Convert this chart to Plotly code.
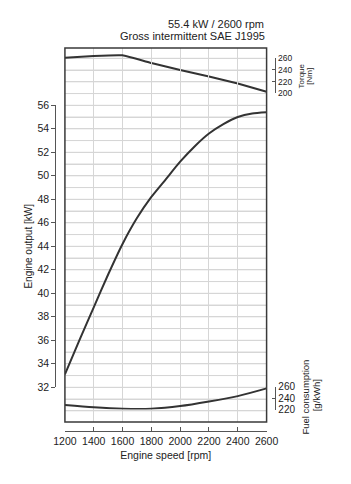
import plotly.graph_objects as go

# ---- data ----
rpm_power = [1200, 1300, 1400, 1500, 1600, 1700, 1800, 1900, 2000, 2100, 2200, 2300, 2400, 2500, 2600]
power_kw = [33.1, 36.0, 38.8, 41.6, 44.2, 46.4, 48.2, 49.7, 51.2, 52.5, 53.6, 54.4, 55.0, 55.3, 55.4]

rpm_torque = [1200, 1400, 1600, 1800, 2000, 2200, 2400, 2600]
torque_nm = [261, 264, 265, 252, 240, 229, 217, 203]

rpm_fuel = [1200, 1400, 1600, 1800, 2000, 2200, 2400, 2600]
fuel_gkwh = [228, 224, 221.5, 221.5, 226, 234, 243.5, 257]

x_ticks = [1200, 1400, 1600, 1800, 2000, 2200, 2400, 2600]
kw_ticks = [32, 34, 36, 38, 40, 42, 44, 46, 48, 50, 52, 54, 56]
kw_grid = list(range(30, 61))
torque_ticks = [200, 220, 240, 260]
fuel_ticks = [220, 240, 260]

title_lines = ["55.4 kW / 2600 rpm", "Gross intermittent SAE J1995"]

# ---- geometry helpers (pixel -> paper) ----
W, H = 351, 484
ML, MR, MT, MB = 20, 20, 20, 20
PW, PH = W - ML - MR, H - MT - MB


def fx(px):
    return (px - ML) / PW


def fy(py):
    return (H - MB - py) / PH


LINE = "#333333"
GRID = "#d6d6d6"
TXT = "#222222"
FONT = "Liberation Sans, Arial, sans-serif"
CLEAR = "rgba(0,0,0,0)"

# main kW scale: 32 kW at y=387.3 px, 11.75 px per kW
kw_lo = 32 - (422 - 387.3) / 11.75
kw_hi = 32 + (387.3 - 48) / 11.75
# torque scale aligned with grid: 200 Nm -> 57 kW line, 20 Nm per kW
tq_lo = 200 + (kw_lo - 57) * 20
tq_hi = 200 + (kw_hi - 57) * 20

fig = go.Figure()

fig.add_trace(go.Scatter(x=[1200, 2600], y=[kw_lo, kw_hi], xaxis="x", yaxis="y",
                         mode="lines", line=dict(width=0), hoverinfo="skip"))
fig.add_trace(go.Scatter(x=[None], y=[None], xaxis="x2", yaxis="y", hoverinfo="skip"))
fig.add_trace(go.Scatter(x=rpm_power, y=power_kw, xaxis="x", yaxis="y4", mode="lines",
                         line=dict(color=LINE, width=2, shape="spline", smoothing=0.6),
                         hoverinfo="skip"))
fig.add_trace(go.Scatter(x=rpm_torque, y=torque_nm, xaxis="x", yaxis="y5", mode="lines",
                         line=dict(color=LINE, width=2, shape="spline", smoothing=0.3),
                         hoverinfo="skip"))
fig.add_trace(go.Scatter(x=[None], y=[None], xaxis="x", yaxis="y2", hoverinfo="skip"))
fig.add_trace(go.Scatter(x=rpm_fuel, y=fuel_gkwh, xaxis="x", yaxis="y3", mode="lines",
                         line=dict(color=LINE, width=2, shape="spline", smoothing=0.8),
                         hoverinfo="skip"))

# horizontal grid (1 kW steps) placed through the kW axis scale
grid_shapes = [dict(type="line", xref="x", yref="y", x0=1200, x1=2600, y0=v, y1=v,
                    line=dict(color=GRID, width=1), layer="below") for v in kw_grid]

frame = dict(type="rect", xref="paper", yref="paper",
             x0=fx(62), x1=fx(269), y0=fy(422), y1=fy(48),
             line=dict(color="#3a3a3a", width=1.5), layer="above")

fig.update_layout(
    width=W, height=H,
    margin=dict(l=ML, r=MR, t=MT, b=MB),
    paper_bgcolor="white", plot_bgcolor=CLEAR,
    showlegend=False,
    font=dict(family=FONT, color=TXT, size=10.5),
    xaxis=dict(
        domain=[fx(62), fx(269)], range=[1200, 2600], anchor="y",
        tickvals=x_ticks, ticks="", showticklabels=False, showline=False,
        showgrid=True, gridcolor=GRID, gridwidth=1, zeroline=False,
    ),
    xaxis2=dict(
        overlaying="x", range=[1200, 2600],
        anchor="free", position=fy(431), side="bottom",
        tickvals=x_ticks, ticks="inside", ticklen=4, tickcolor="#555",
        showline=True, linecolor="#555", linewidth=1,
        showgrid=False, zeroline=False,
        tickfont=dict(size=10.5),
        title=dict(text="Engine speed [rpm]", font=dict(size=10.5), standoff=6),
    ),
    yaxis=dict(
        domain=[fy(422), fy(48)], range=[kw_lo, kw_hi], anchor="x",
        tickvals=kw_grid,
        showgrid=True, gridcolor=GRID, gridwidth=1,
        showticklabels=False, ticks="", showline=False, zeroline=False,
    ),
    yaxis4=dict(
        domain=[fy(387.3), fy(105.3)], range=[32, 56],
        anchor="free", position=fx(52), side="left",
        tickvals=kw_ticks, ticks="outside", ticklen=4, tickcolor="#555",
        showline=True, linecolor="#555", linewidth=1,
        showgrid=False, zeroline=False, tickfont=dict(size=10.5),
        title=dict(text="Engine output [kW]", font=dict(size=10), standoff=1),
    ),
    yaxis5=dict(
        overlaying="y", range=[tq_lo, tq_hi], anchor="x", visible=False,
    ),
    yaxis2=dict(
        domain=[fy(93.3), fy(58.3)], range=[200, 260],
        anchor="free", position=fx(278), side="right",
        tickvals=torque_ticks, ticks="inside", ticklen=3, tickcolor="#555",
        showline=True, linecolor="#555", linewidth=1,
        showgrid=False, zeroline=False, tickfont=dict(size=8.5),
    ),
    yaxis3=dict(
        domain=[fy(409.5), fy(386.7)], range=[220, 260],
        anchor="free", position=fx(278), side="right",
        tickvals=fuel_ticks, ticks="inside", ticklen=3, tickcolor="#555",
        showline=True, linecolor="#555", linewidth=1,
        showgrid=False, zeroline=False, tickfont=dict(size=10),
    ),
    shapes=grid_shapes + [frame],
    annotations=[
        dict(text=title_lines[0], xref="paper", yref="paper", x=fx(268), y=fy(24),
             xanchor="right", yanchor="middle", showarrow=False, font=dict(size=11)),
        dict(text=title_lines[1], xref="paper", yref="paper", x=fx(269), y=fy(36),
             xanchor="right", yanchor="middle", showarrow=False, font=dict(size=11)),
        dict(text="Torque", xref="paper", yref="paper", x=fx(305), y=fy(75.8),
             xanchor="center", yanchor="middle", textangle=-90, showarrow=False,
             font=dict(size=8)),
        dict(text="[Nm]", xref="paper", yref="paper", x=fx(313.5), y=fy(75.8),
             xanchor="center", yanchor="middle", textangle=-90, showarrow=False,
             font=dict(size=8)),
        dict(text="Fuel consumption", xref="paper", yref="paper", x=fx(308), y=fy(397),
             xanchor="center", yanchor="middle", textangle=-90, showarrow=False,
             font=dict(size=9.5)),
        dict(text="[g/kWh]", xref="paper", yref="paper", x=fx(320), y=fy(395),
             xanchor="center", yanchor="middle", textangle=-90, showarrow=False,
             font=dict(size=9.5)),
    ],
)

fig.write_html("out.html")
